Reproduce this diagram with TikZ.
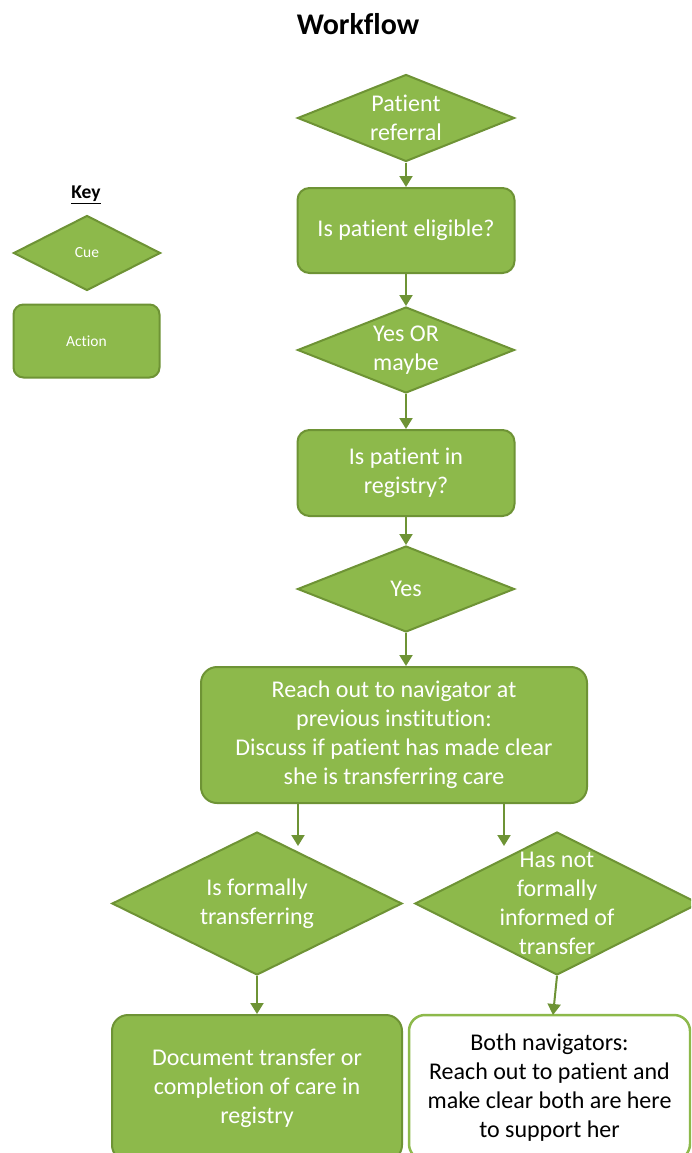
\documentclass[tikz,border=0pt]{standalone}
\usepackage{fontspec}
\setmainfont{Carlito}[Ligatures=NoCommon]
\usetikzlibrary{shapes.geometric,arrows.meta}
\definecolor{gfill}{HTML}{8DB94B}
\definecolor{gline}{HTML}{6E9335}
\begin{document}
\begin{tikzpicture}[x=1pt,y=-1pt,
  cue/.style={diamond, draw=gline, fill=gfill, line width=2pt, inner sep=0pt},
  act/.style={rectangle, rounded corners=12pt, draw=gline, fill=gfill, line width=2pt, inner sep=0pt, text=white, align=center, font=\fontsize{24}{29}\selectfont},
  txt/.style={text=white, align=center, font=\fontsize{24}{29}\selectfont, inner sep=0pt},
  arr/.style={draw=gline, line width=2pt, -{Triangle[length=11pt,width=13pt]}}]
\useasboundingbox (0,0) rectangle (691,1153);
\clip (0,0) rectangle (691,1153);
\fill[white] (0,0) rectangle (691,1153);

\node[font=\bfseries\fontsize{30}{32}\selectfont] (title) at (358,24) {Workflow};

% key
\node[font=\bfseries\fontsize{19.5}{22}\selectfont] (key) at (86,195) {\underline{Key}};
\node[cue, minimum width=147pt, minimum height=75pt] (kcue) at (87,253) {};
\node[txt, font=\fontsize{15.5}{18}\selectfont] (kcuet) at (kcue) {Cue};
\node[act, rounded corners=10pt, minimum width=146pt, minimum height=73pt, font=\fontsize{15.5}{18}\selectfont] (kact) at (86.5,341) {Action};

% main flow
\node[cue, minimum width=217pt, minimum height=87pt] (d1) at (406,118) {};
\node[txt] (d1t) at (d1) {Patient\\referral};
\node[act, minimum width=217pt, minimum height=85pt] (r1) at (406,230.5) {Is patient eligible?};
\node[cue, minimum width=217pt, minimum height=86pt] (d2) at (406,350) {};
\node[txt] (d2t) at (d2) {Yes OR\\maybe};
\node[act, minimum width=217pt, minimum height=86pt] (r2) at (406,473) {Is patient in\\registry?};
\node[cue, minimum width=217pt, minimum height=86pt] (d3) at (406,589) {};
\node[txt] (d3t) at (d3) {Yes};
\node[act, rounded corners=16pt, minimum width=386pt, minimum height=136pt] (r3) at (394,735) {Reach out to navigator at\\previous institution:\\Discuss if patient has made clear\\she is transferring care};
\node[cue, minimum width=290pt, minimum height=143pt] (d4) at (257,903.5) {};
\node[txt] (d4t) at (d4) {Is formally\\transferring};
\node[cue, minimum width=284pt, minimum height=143pt] (d5) at (557,903.5) {};
\node[txt] (d5t) at (d5) {Has not\\formally\\informed of\\transfer};
\node[act, rounded corners=16pt, minimum width=290pt, minimum height=146pt] (r4) at (257,1088) {Document transfer or\\completion of care in\\registry};
\node[act, rounded corners=16pt, draw=gfill, fill=white, text=black, line width=2.5pt, minimum width=281pt, minimum height=145pt] (r5) at (549.5,1087.5) {Both navigators:\\Reach out to patient and\\make clear both are here\\to support her};

\coordinate (a4) at (298,846);
\coordinate (a5) at (504,846);
\coordinate (c5) at (553,1015);

\draw[arr] (d1.south) -- (r1.north);
\draw[arr] (r1.south) -- (d2.north);
\draw[arr] (d2.south) -- (r2.north);
\draw[arr] (r2.south) -- (d3.north);
\draw[arr] (d3.south) -- (d3.south |- r3.north);
\draw[arr] (r3.south -| a4) -- (a4);
\draw[arr] (r3.south -| a5) -- (a5);
\draw[arr] (d4.south) -- (r4.north);
\draw[arr] (d5.south) -- (c5);
\end{tikzpicture}
\end{document}
